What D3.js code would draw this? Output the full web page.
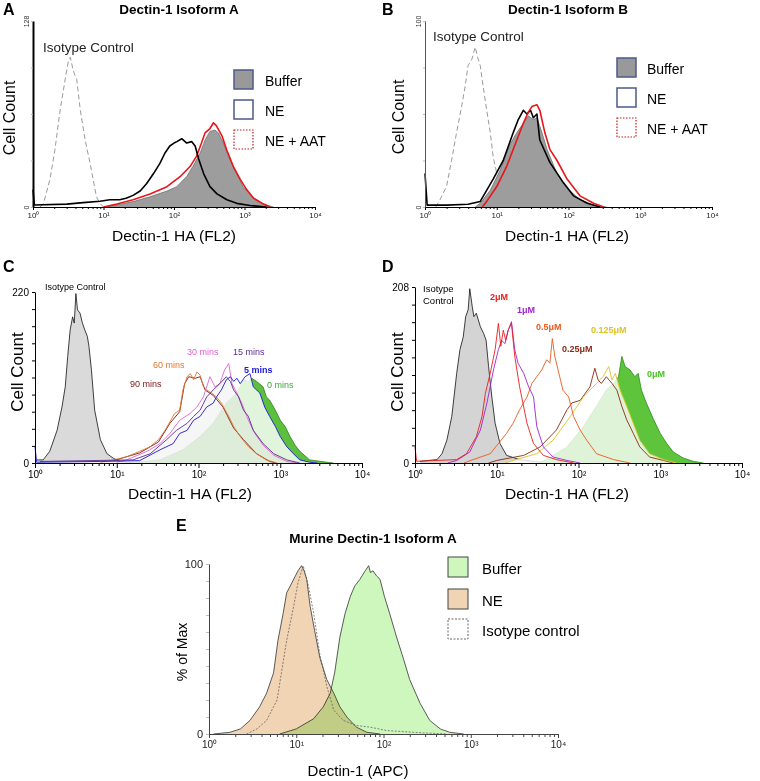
<!DOCTYPE html>
<html>
<head>
<meta charset="utf-8">
<script src="https://cdn.jsdelivr.net/npm/d3@7"></script>
<style>
  body { margin: 0; background: #fff; }
  svg text { font-family: "Liberation Sans", Arial, sans-serif; }
</style>
</head>
<body>
<div id="chart"></div>
<script>
// histogram series: [log10 intensity, cell count]
var decadeTicks = [1, 10, 100, 1000, 10000];
var decadeLabels = ["10⁰", "10¹", "10²", "10³", "10⁴"];

// panel A
var isoA = [[0.1,0],[0.15,2.5],[0.24,19],[0.31,39],[0.38,65],[0.45,86],[0.5,100],[0.53,103],[0.57,94],[0.6,90],[0.62,88],[0.67,67],[0.74,46],[0.81,30],[0.9,7],[0.95,2.5],[1.0,0]];
var neA = [[0,12],[0.02,1.4],[0.48,2],[0.71,3],[0.95,4],[1.09,5],[1.23,5],[1.32,6],[1.42,8],[1.52,11],[1.61,16],[1.71,23],[1.8,30],[1.87,37],[1.94,42],[2.0,44],[2.04,45],[2.11,47],[2.18,44],[2.25,45],[2.3,42],[2.35,33],[2.42,23],[2.51,14],[2.61,9],[2.75,5],[2.89,2.5],[3.08,1],[3.31,0]];
var bufA = [[1.0,0],[1.19,1.4],[1.42,3.7],[1.66,7],[1.9,11],[2.04,14],[2.18,21],[2.27,28],[2.37,37],[2.44,46],[2.51,52],[2.58,53],[2.63,51],[2.7,44],[2.79,33],[2.89,23],[2.98,14],[3.13,6],[3.27,2],[3.41,0]];
var aatA = [[1.0,0],[1.19,2],[1.42,5],[1.66,9],[1.9,14],[2.09,21],[2.23,28],[2.32,35],[2.39,44],[2.44,51],[2.51,54],[2.56,58],[2.6,56],[2.68,49],[2.75,39],[2.84,28],[2.94,19],[3.03,12],[3.13,6],[3.27,2],[3.36,0]];

// panel B
var isoB = [[0.15,0],[0.21,4],[0.3,11],[0.37,25],[0.44,40],[0.51,54],[0.56,65],[0.6,76],[0.65,79],[0.7,86],[0.73,81],[0.77,76],[0.81,65],[0.86,52],[0.91,40],[0.95,27],[1.0,18],[1.07,9],[1.14,4],[1.33,3],[1.7,2],[1.98,1.6],[2.26,0.5],[2.44,0]];
var neB = [[0,18],[0.03,1],[0.3,1],[0.6,1.5],[0.77,3],[0.95,15],[1.09,25],[1.23,40],[1.3,47],[1.37,52],[1.42,50],[1.47,52],[1.51,48],[1.56,50],[1.6,36],[1.74,24],[1.93,13],[2.07,6],[2.26,2],[2.44,0]];
var bufB = [[0.7,0],[0.77,2],[0.91,9],[1.05,20],[1.19,34],[1.28,40],[1.37,45],[1.44,49],[1.51,47],[1.56,48],[1.63,40],[1.7,31],[1.84,18],[1.98,10],[2.16,4],[2.35,1],[2.53,0]];
var aatB = [[0.8,0],[0.86,3],[1.0,11],[1.14,22],[1.28,36],[1.37,45],[1.44,51],[1.49,54],[1.56,55],[1.6,52],[1.67,40],[1.74,31],[1.84,25],[1.98,15],[2.16,6],[2.35,2],[2.49,0]];

// panel C
var isoC = [[0.02,4],[0.1,4],[0.18,15],[0.27,42],[0.33,72],[0.37,98],[0.4,137],[0.43,171],[0.46,188],[0.48,180],[0.5,218],[0.52,197],[0.55,193],[0.58,180],[0.61,171],[0.64,163],[0.66,150],[0.69,120],[0.73,68],[0.8,30],[0.88,12],[0.96,6],[1.04,2],[1.2,0]];
var min0C = [[1.2,1],[1.53,4],[1.81,17],[2.02,34],[2.18,51],[2.34,77],[2.47,90],[2.55,107],[2.61,105],[2.65,109],[2.71,105],[2.79,98],[2.83,85],[2.87,81],[2.94,68],[3.0,55],[3.06,47],[3.12,34],[3.18,23],[3.24,15],[3.36,4],[3.57,1],[3.65,0]];
var min5C = [[0,21],[0.02,1],[0.8,2],[1.28,3],[1.53,17],[1.69,25],[1.77,38],[1.86,42],[1.94,55],[2.02,60],[2.1,72],[2.18,77],[2.22,85],[2.28,94],[2.34,107],[2.39,111],[2.43,105],[2.47,109],[2.51,102],[2.57,111],[2.63,115],[2.67,98],[2.75,90],[2.81,72],[2.87,60],[2.94,47],[3.0,34],[3.08,21],[3.16,12],[3.24,4],[3.36,1],[3.45,0]];
var min15C = [[0.06,2],[1.2,4],[1.41,12],[1.61,30],[1.73,42],[1.86,51],[1.94,60],[2.02,68],[2.1,85],[2.18,94],[2.26,102],[2.34,111],[2.39,105],[2.43,94],[2.49,85],[2.55,68],[2.61,60],[2.67,42],[2.79,25],[2.92,12],[3.08,4],[3.24,0]];
var min30C = [[1.0,1],[1.12,4],[1.37,15],[1.53,25],[1.65,38],[1.77,55],[1.9,64],[1.98,72],[2.06,85],[2.14,111],[2.2,98],[2.26,102],[2.32,120],[2.37,128],[2.41,102],[2.47,90],[2.53,77],[2.61,55],[2.69,38],[2.79,23],[2.92,10],[3.08,2],[3.2,0]];
var min60C = [[0.8,1],[0.96,4],[1.12,8],[1.28,15],[1.41,21],[1.51,30],[1.59,42],[1.65,53],[1.71,64],[1.77,68],[1.81,94],[1.86,111],[1.9,115],[1.94,107],[1.98,117],[2.02,113],[2.06,98],[2.1,94],[2.16,90],[2.22,85],[2.28,77],[2.37,60],[2.43,47],[2.51,34],[2.61,21],[2.71,12],[2.83,4],[2.96,0]];
var min90C = [[0.96,3],[1.28,13],[1.51,27],[1.65,51],[1.77,66],[1.83,102],[1.88,111],[1.96,109],[2.02,111],[2.08,94],[2.18,87],[2.3,72],[2.43,45],[2.55,30],[2.71,12],[2.87,2],[2.95,0]];
var timeLabels = ["90 mins", "60 mins", "30 mins", "15 mins", "5 mins", "0 mins"];

// panel D
var isoD = [[0.06,2],[0.27,4],[0.33,11],[0.39,27],[0.45,55],[0.51,106],[0.55,134],[0.59,149],[0.62,173],[0.65,181],[0.67,206],[0.7,185],[0.72,173],[0.75,177],[0.8,161],[0.84,153],[0.87,145],[0.9,114],[0.94,78],[0.98,47],[1.04,23],[1.12,9],[1.28,4],[1.53,1],[1.69,0]];
var um2D = [[0,19],[0.02,2],[0.51,4],[0.63,11],[0.75,31],[0.82,55],[0.86,82],[0.92,106],[0.98,134],[1.02,165],[1.05,138],[1.08,157],[1.11,145],[1.14,157],[1.18,165],[1.22,126],[1.28,90],[1.37,47],[1.45,23],[1.57,9],[1.73,4],[1.94,0]];
var um1D = [[0.4,0],[0.51,3],[0.67,13],[0.8,39],[0.88,71],[0.96,110],[1.02,134],[1.06,145],[1.1,141],[1.14,157],[1.18,167],[1.22,134],[1.26,118],[1.33,106],[1.39,90],[1.45,78],[1.49,43],[1.57,19],[1.69,7],[1.86,3],[2.02,0]];
var um05D = [[0.6,0],[0.71,4],[0.92,11],[1.12,35],[1.2,47],[1.28,63],[1.37,78],[1.43,94],[1.49,102],[1.55,110],[1.61,122],[1.65,118],[1.68,147],[1.71,126],[1.75,110],[1.81,86],[1.88,78],[1.94,55],[2.02,39],[2.1,27],[2.22,11],[2.43,4],[2.63,0]];
var um025D = [[0.9,0],[1.0,3],[1.33,9],[1.53,19],[1.73,39],[1.86,63],[1.92,71],[2.02,74],[2.08,82],[2.14,90],[2.2,112],[2.24,98],[2.28,94],[2.34,102],[2.41,94],[2.47,86],[2.53,67],[2.59,51],[2.67,35],[2.75,19],[2.87,7],[3.04,3],[3.16,0]];
var um0125D = [[1.1,0],[1.2,3],[1.49,11],[1.69,27],[1.9,55],[2.06,78],[2.14,86],[2.22,94],[2.3,102],[2.37,114],[2.41,98],[2.45,106],[2.51,86],[2.59,67],[2.67,47],[2.75,27],[2.87,11],[3.04,4],[3.2,0]];
var um0D = [[1.5,0],[1.61,4],[1.86,19],[2.06,43],[2.22,67],[2.34,86],[2.43,94],[2.49,102],[2.53,126],[2.57,114],[2.63,110],[2.69,102],[2.73,106],[2.77,86],[2.83,71],[2.92,51],[3.0,35],[3.08,23],[3.16,13],[3.28,6],[3.4,2],[3.53,0]];

// panel E
var neE = [[0.05,0],[0.24,1],[0.36,3],[0.47,8],[0.58,16],[0.66,24],[0.74,36],[0.79,55],[0.85,71],[0.89,83],[0.95,89],[0.99,93],[1.02,96],[1.06,99],[1.09,96],[1.12,91],[1.16,75],[1.21,61],[1.27,45],[1.35,32],[1.43,24],[1.5,16],[1.58,10],[1.69,4],[1.81,1],[1.96,0]];
var bufE = [[0.81,0],[1.0,3],[1.2,9],[1.31,16],[1.39,24],[1.44,36],[1.5,57],[1.56,71],[1.62,81],[1.67,87],[1.73,91],[1.79,96],[1.83,99],[1.85,95],[1.88,96],[1.92,93],[1.96,91],[2.01,81],[2.07,71],[2.15,57],[2.23,44],[2.3,32],[2.42,18],[2.53,8],[2.65,3],[2.76,1],[2.92,0]];
var isoE = [[0.43,0],[0.55,3],[0.66,8],[0.78,20],[0.83,36],[0.89,55],[0.97,75],[1.02,89],[1.08,99],[1.14,87],[1.2,71],[1.27,47],[1.35,28],[1.43,14],[1.54,8],[1.69,5],[1.85,4],[2.04,2],[2.34,1],[2.72,0]];

var svg = d3.select("#chart").append("svg").attr("width", 760).attr("height", 781);

function makePanel(box, yMax) {
  var x = d3.scaleLog().domain([1, 10000]).range([box.left, box.right]);
  var y = d3.scaleLinear().domain([0, yMax]).range([box.bottom, box.top]);
  return { x: x, y: y, g: svg.append("g") };
}

function drawXAxis(p, o) {
  var minors = [];
  for (var e = 0; e < 4; e++) for (var k = 2; k < 10; k++) minors.push(k * Math.pow(10, e));
  var gMin = p.g.append("g").attr("transform", "translate(0," + p.y(0) + ")")
    .call(d3.axisBottom(p.x).tickValues(minors).tickSize(o.minor).tickFormat(""));
  var gMaj = p.g.append("g").attr("transform", "translate(0," + p.y(0) + ")")
    .call(d3.axisBottom(p.x).tickValues(decadeTicks).tickSize(o.major).tickPadding(o.pad)
      .tickFormat(function (d, i) { return decadeLabels[i]; }));
  [gMin, gMaj].forEach(function (g) {
    g.select(".domain").attr("stroke", o.color).attr("stroke-width", o.width);
    g.selectAll(".tick line").attr("stroke", o.color);
  });
  gMaj.selectAll("text").attr("font-size", o.font).attr("fill", o.textColor)
    .attr("font-family", "Liberation Sans, Arial, sans-serif");
}

function drawYAxis(p, yMax, n, o) {
  var ticks = d3.range(0, n + 1).map(function (i) { return yMax * i / n; });
  var ax = p.g.append("g").attr("transform", "translate(" + p.x(1) + ",0)")
    .call(d3.axisLeft(p.y).tickValues(ticks).tickSize(o.tick).tickSizeOuter(0)
      .tickFormat(function (d) { return (d === 0 || d === yMax) ? d : ""; }));
  ax.select(".domain").attr("stroke", o.color).attr("stroke-width", o.width);
  ax.selectAll(".tick line").attr("stroke", o.tickColor);
  ax.selectAll("text").attr("font-size", o.font).attr("fill", o.textColor)
    .attr("font-family", "Liberation Sans, Arial, sans-serif");
  if (o.rotate) {
    ax.selectAll("text").attr("transform", "rotate(-90)").attr("text-anchor", "middle")
      .attr("x", 0).attr("y", -4).attr("dy", 0);
  }
}

function hist(p, pts, st) {
  var ax = function (d) { return p.x(Math.pow(10, d[0])); };
  if (st.fill) {
    p.g.append("path").datum(pts)
      .attr("d", d3.area().x(ax).y0(p.y(0)).y1(function (d) { return p.y(d[1]); }))
      .attr("fill", st.fill).attr("fill-opacity", st.fillOpacity || 1)
      .style("mix-blend-mode", st.blend || null);
  }
  if (st.stroke) {
    p.g.append("path").datum(pts)
      .attr("d", d3.line().x(ax).y(function (d) { return p.y(d[1]); }))
      .attr("fill", "none").attr("stroke", st.stroke).attr("stroke-width", st.width || 1)
      .attr("stroke-dasharray", st.dash || null).attr("stroke-linejoin", "round");
  }
}

function text(x, y, s, o) {
  var t = svg.append("text").attr("x", x).attr("y", y).text(s)
    .attr("font-size", o.size).attr("fill", o.color || "#000")
    .attr("font-weight", o.bold ? "bold" : null)
    .attr("text-anchor", o.anchor || "start");
  if (o.rotate) t.attr("transform", "rotate(-90," + x + "," + y + ")");
  return t;
}

function legend(items, x0, ys, tx, size, box) {
  items.forEach(function (it, i) {
    svg.append("rect").attr("x", x0).attr("y", ys[i]).attr("width", box).attr("height", box)
      .attr("fill", it.fill).attr("stroke", it.stroke).attr("stroke-width", it.width || 1.5)
      .attr("stroke-dasharray", it.dash || null);
    text(tx, ys[i] + box - 3, it.label, { size: size });
  });
}

// ---------- A ----------
var pA = makePanel({ left: 33, right: 315, top: 21, bottom: 207 }, 128);
hist(pA, isoA, { stroke: "#9a9a9a", width: 1, dash: "5,3" });
hist(pA, bufA, { fill: "#9d9d9d", stroke: "#6e6e6e", width: 0.8 });
hist(pA, aatA, { stroke: "#e8161b", width: 1.6 });
hist(pA, neA, { stroke: "#000", width: 1.6 });
drawXAxis(pA, { minor: 2, major: 3, pad: 2, color: "#000", width: 1, font: "8px", textColor: "#222" });
drawYAxis(pA, 128, 4, { tick: 2, color: "#000", width: 2, tickColor: "#bbb", font: "7px", textColor: "#333", rotate: true });
text(3, 15, "A", { size: "16px", bold: true });
text(179, 14, "Dectin-1 Isoform A", { size: "13.5px", bold: true, anchor: "middle" });
text(43, 52, "Isotype Control", { size: "13.5px", color: "#222" });
text(15, 118, "Cell Count", { size: "16px", anchor: "middle", rotate: true });
text(174, 241, "Dectin-1 HA (FL2)", { size: "15.5px", anchor: "middle" });
legend([
  { label: "Buffer", fill: "#999", stroke: "#4b5a8c" },
  { label: "NE", fill: "#fff", stroke: "#4b5a8c" },
  { label: "NE + AAT", fill: "#fff", stroke: "#d01818", width: 1.2, dash: "1.5,1.5" }
], 234, [70, 100, 130], 265, "14px", 19);

// ---------- B ----------
var pB = makePanel({ left: 425, right: 712, top: 21, bottom: 207 }, 100);
hist(pB, isoB, { stroke: "#9a9a9a", width: 1, dash: "5,3" });
hist(pB, bufB, { fill: "#9d9d9d", stroke: "#6e6e6e", width: 0.8 });
hist(pB, neB, { stroke: "#000", width: 1.6 });
hist(pB, aatB, { stroke: "#e8161b", width: 1.6 });
drawXAxis(pB, { minor: 2, major: 3, pad: 2, color: "#000", width: 1, font: "8px", textColor: "#222" });
drawYAxis(pB, 100, 4, { tick: 2, color: "#555", width: 1, tickColor: "#bbb", font: "7px", textColor: "#333", rotate: true });
text(382, 15, "B", { size: "16px", bold: true });
text(568, 14, "Dectin-1 Isoform B", { size: "13.5px", bold: true, anchor: "middle" });
text(433, 41, "Isotype Control", { size: "13.5px", color: "#222" });
text(404, 117, "Cell Count", { size: "16px", anchor: "middle", rotate: true });
text(567, 241, "Dectin-1 HA (FL2)", { size: "15.5px", anchor: "middle" });
legend([
  { label: "Buffer", fill: "#999", stroke: "#4b5a8c" },
  { label: "NE", fill: "#fff", stroke: "#4b5a8c" },
  { label: "NE + AAT", fill: "#fff", stroke: "#d01818", width: 1.2, dash: "1.5,1.5" }
], 617, [58, 88, 118], 647, "14px", 19);

// ---------- C ----------
var pC = makePanel({ left: 35, right: 362, top: 292, bottom: 463 }, 220);
var timeColors = ["#7a1616", "#e2782c", "#e262d2", "#5c2a8e", "#1c1ad2", "#3ea83a"];
hist(pC, isoC, { fill: "#dadada", stroke: "#111", width: 0.8 });
hist(pC, min0C, { fill: "#5cc03e", stroke: "#2f7d1c", width: 0.8 });
hist(pC, min5C, { fill: "#ffffff", fillOpacity: 0.82 });
hist(pC, min15C, { fill: "#cfcfcf", fillOpacity: 0.18 });
hist(pC, min90C, { stroke: timeColors[0], width: 0.9 });
hist(pC, min60C, { stroke: timeColors[1], width: 0.9 });
hist(pC, min30C, { stroke: timeColors[2], width: 0.9 });
hist(pC, min15C, { stroke: timeColors[3], width: 0.9 });
hist(pC, min5C, { stroke: timeColors[4], width: 0.9 });
drawXAxis(pC, { minor: 3, major: 5, pad: 3, color: "#000", width: 1, font: "10px", textColor: "#000" });
drawYAxis(pC, 220, 10, { tick: 3, color: "#000", width: 1, tickColor: "#000", font: "10px", textColor: "#000" });
text(3, 272, "C", { size: "16px", bold: true });
text(45, 290, "Isotype Control", { size: "9px" });
var cPos = [[130, 387], [153, 368], [187, 355], [233, 355], [244, 373], [267, 388]];
timeLabels.forEach(function (s, i) {
  text(cPos[i][0], cPos[i][1], s, { size: "9px", color: timeColors[i], bold: i === 4 });
});
text(23, 372, "Cell Count", { size: "17px", anchor: "middle", rotate: true });
text(190, 499, "Dectin-1 HA (FL2)", { size: "15.5px", anchor: "middle" });

// ---------- D ----------
var pD = makePanel({ left: 415, right: 742, top: 287, bottom: 463 }, 208);
var doseLabels = ["2μM", "1μM", "0.5μM", "0.25μM", "0.125μM", "0μM"];
var doseColors = ["#e61e1e", "#a022d2", "#e85a1e", "#8a2a14", "#dcc424", "#46c424"];
hist(pD, isoD, { fill: "#d4d4d4", stroke: "#111", width: 0.8 });
hist(pD, um0D, { fill: "#5ec43c", stroke: "#2c8a1a", width: 0.8 });
hist(pD, um0125D, { fill: "#ffffff", fillOpacity: 0.8 });
hist(pD, um025D, { stroke: doseColors[3], width: 0.9 });
hist(pD, um0125D, { stroke: doseColors[4], width: 0.9 });
hist(pD, um05D, { stroke: doseColors[2], width: 0.9 });
hist(pD, um1D, { stroke: doseColors[1], width: 0.9 });
hist(pD, um2D, { stroke: doseColors[0], width: 0.9 });
drawXAxis(pD, { minor: 3, major: 5, pad: 3, color: "#000", width: 1, font: "10px", textColor: "#000" });
drawYAxis(pD, 208, 10, { tick: 3, color: "#000", width: 1, tickColor: "#000", font: "10px", textColor: "#000" });
text(382, 272, "D", { size: "16px", bold: true });
text(423, 292, "Isotype", { size: "9.5px" });
text(423, 304, "Control", { size: "9.5px" });
var dPos = [[490, 300], [517, 313], [536, 330], [562, 352], [591, 333], [647, 377]];
doseLabels.forEach(function (s, i) {
  text(dPos[i][0], dPos[i][1], s, { size: "9px", color: doseColors[i], bold: true });
});
text(403, 372, "Cell Count", { size: "17px", anchor: "middle", rotate: true });
text(567, 499, "Dectin-1 HA (FL2)", { size: "15.5px", anchor: "middle" });

// ---------- E ----------
var pE = makePanel({ left: 209, right: 558, top: 564, bottom: 734 }, 100);
var blendG = pE.g.append("g").style("isolation", "isolate");
var pEb = { x: pE.x, y: pE.y, g: blendG };
hist(pEb, bufE, { fill: "#cdf7bc", stroke: "#333", width: 0.8, blend: "multiply" });
hist(pEb, neE, { fill: "#f0d4b4", stroke: "#333", width: 0.8, blend: "multiply" });
hist(pEb, isoE, { stroke: "#555", width: 0.7, dash: "2,1.5" });
drawXAxis(pE, { minor: 3, major: 4, pad: 3, color: "#444", width: 1, font: "10px", textColor: "#222" });
drawYAxis(pE, 100, 10, { tick: 3, color: "#444", width: 1, tickColor: "#bbb", font: "11px", textColor: "#222" });
text(176, 531, "E", { size: "16px", bold: true });
text(373, 543, "Murine Dectin-1 Isoform A", { size: "13.5px", bold: true, anchor: "middle" });
text(187, 652, "% of Max", { size: "14px", anchor: "middle", rotate: true });
text(358, 776, "Dectin-1 (APC)", { size: "15px", anchor: "middle" });
legend([
  { label: "Buffer", fill: "#cdf7bc", stroke: "#444", width: 1 },
  { label: "NE", fill: "#f0d4b4", stroke: "#444", width: 1 },
  { label: "Isotype control", fill: "#fff", stroke: "#666", width: 1, dash: "2,1.5" }
], 448, [557, 589, 619], 482, "15px", 20);
</script>
</body>
</html>
